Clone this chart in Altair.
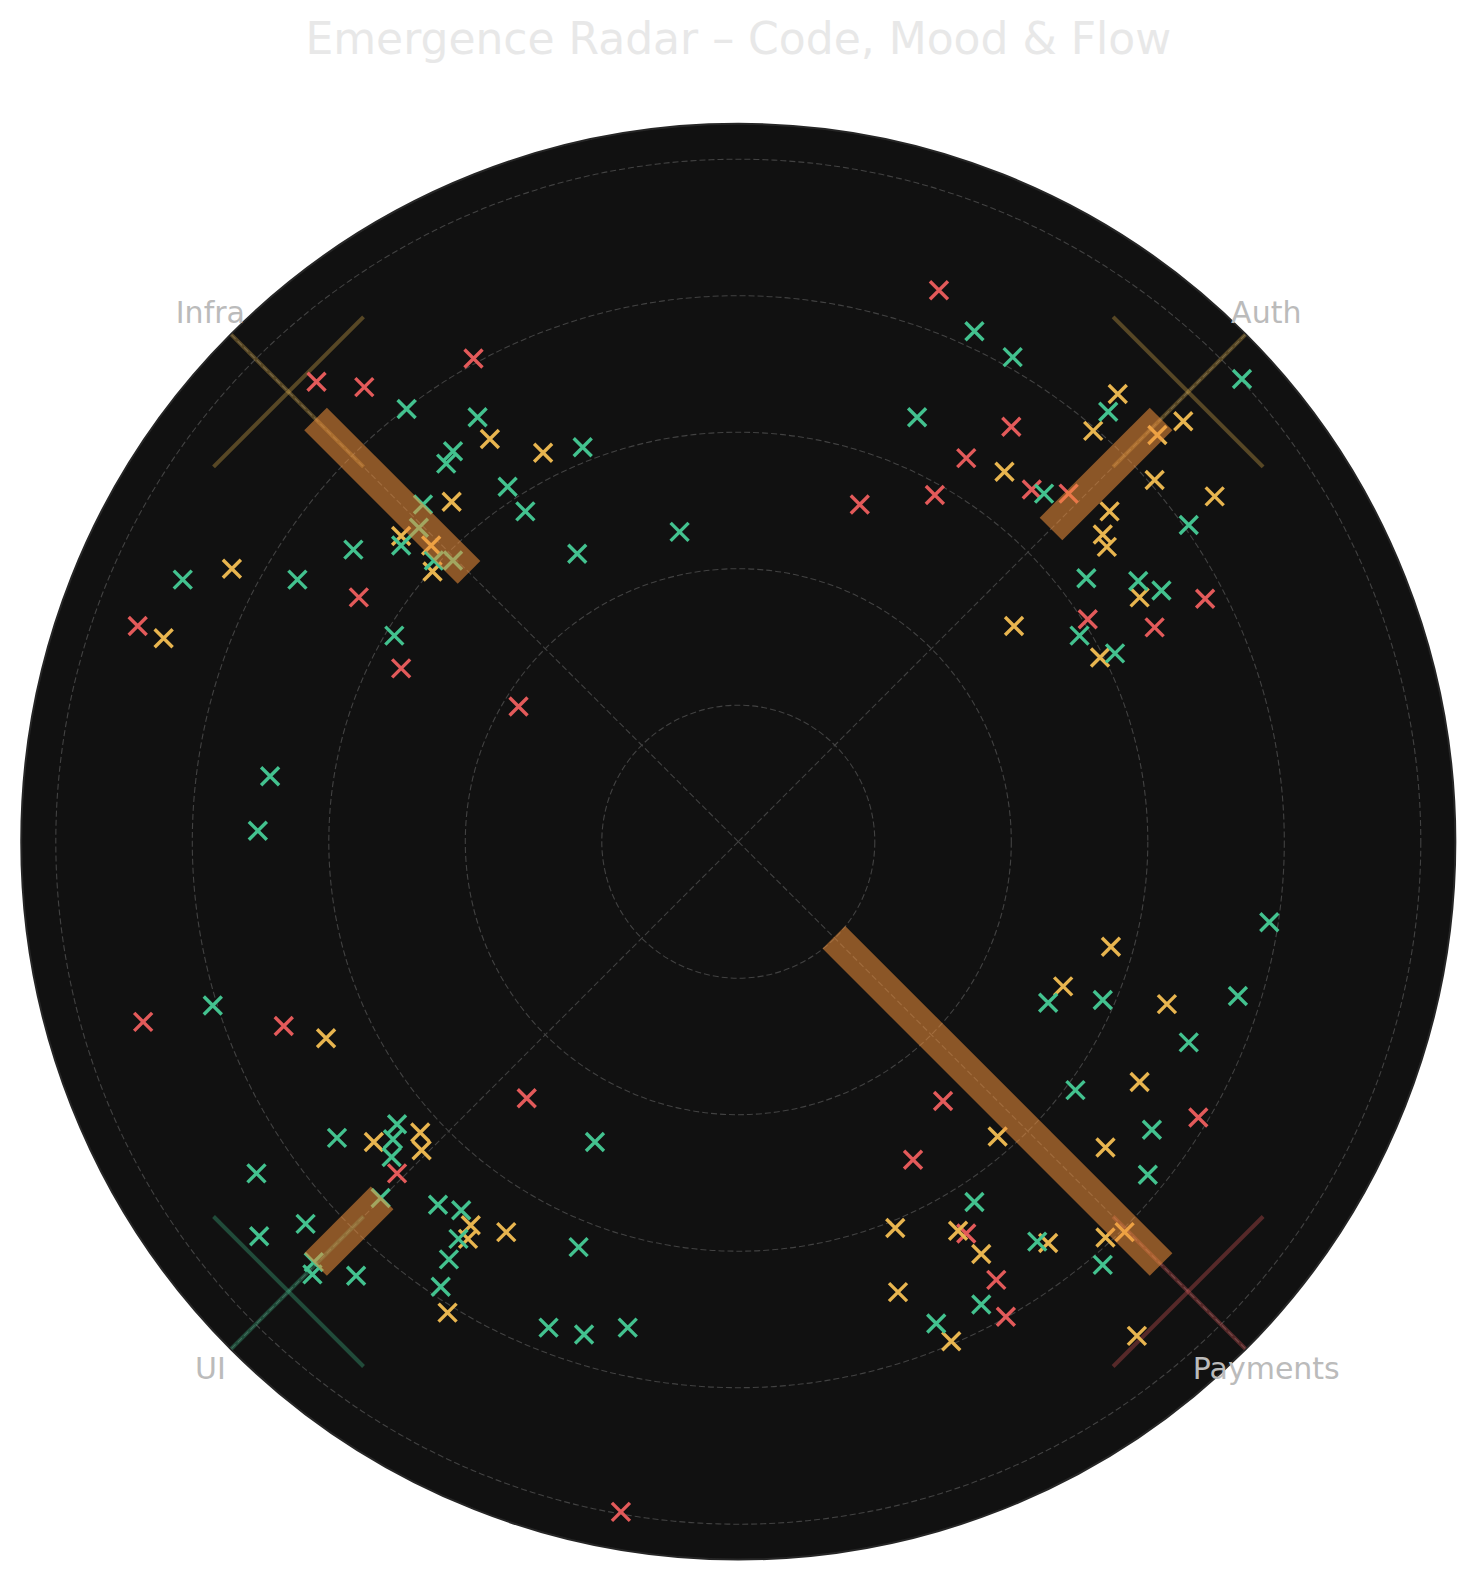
import math
import altair as alt
import pandas as pd

# ---------------- data (radial units: grid rings at 1..5) ----------------
TITLE = "Emergence Radar – Code, Mood & Flow"
categories = ["Auth", "Infra", "UI", "Payments"]
category_angle = [45, 135, 225, 315]          # degrees, counter-clockwise from east
flow_start = [3.24, 2.79, 3.69, 0.99]
flow_end = [4.38, 4.38, 4.38, 4.38]
mood_marker_r = [4.66, 4.66, 4.66, 4.66]
category_mood = ["Neutral", "Neutral", "Flow", "Blocked"]
ring_levels = [1, 2, 3, 4, 5]
R_MAX = 5.253
LABEL_R = 5.47

moods = ["Blocked", "Neutral", "Flow"]
mood_colors = ["#e35a5a", "#e8b54f", "#43c28f"]

blocked_x = [-1.94, -3.09, -2.74, -2.78, -4.40, -2.47, -1.61, 1.47, 2.00, 1.67, 2.15, 2.42, 1.44, 0.89,
             3.42, 2.56, 3.05, -4.36, -3.33, -1.55, -2.50, -0.86, 1.50, 3.37, 1.28, 1.67, 1.89, 1.96]
blocked_y = [3.54, 3.37, 3.33, 1.79, 1.58, 1.27, 0.99, 4.04, 3.04, 2.81, 2.58, 2.55, 2.54, 2.47,
             1.78, 1.63, 1.57, -1.32, -1.35, -1.88, -2.43, -4.91, -1.90, -2.02, -2.33, -2.87, -3.21, -3.48]

neutral_x = [-1.82, -1.43, -2.10, -2.47, -2.25, -2.24, -3.71, -4.21, 2.78, 2.60, 3.26, 3.07, 1.95, 3.05,
             3.49, 2.72, 2.67, 2.70, 2.94, 2.02, 2.65, -3.02, -2.33, -2.67, -2.32, -1.96, -1.98, -1.70,
             -2.13, 2.73, 2.38, 3.14, 2.94, 1.90, 2.69, 1.15, 1.61, 2.27, 2.69, 2.83, 1.78, 1.17, 1.56, 2.92]
neutral_y = [2.95, 2.85, 2.49, 2.24, 2.17, 1.98, 2.00, 1.49, 3.28, 3.01, 3.08, 2.98, 2.71, 2.65,
             2.53, 2.42, 2.25, 2.16, 1.79, 1.58, 1.35, -1.44, -2.13, -2.20, -2.26, -2.81, -2.91, -2.86,
             -3.45, -0.77, -1.06, -1.19, -1.76, -2.16, -2.24, -2.83, -2.85, -2.94, -2.90, -2.86, -3.02,
             -3.30, -3.66, -3.62]

flow_x = [-2.43, -1.91, -2.09, -2.14, -1.14, -1.69, -1.56, -2.31, -2.34, -2.47, -2.23, -2.09, -2.82, -1.18,
          -4.07, -3.23, -2.52, -0.43, -3.43, -3.52, 1.73, 2.01, 3.69, 2.71, 1.31, 2.24, 3.30, 2.55, 2.93,
          3.10, 2.50, 2.76, -3.85, -1.05, -2.50, -2.94, -2.53, -2.54, -3.53, -2.62, -2.20, -2.03, -2.05,
          -3.17, -3.51, -1.17, -3.11, -3.12, -2.80, -2.12, -2.18, -1.39, -1.13, -0.81, 3.89, 2.27, 2.67,
          3.66, 3.30, 2.47, 3.03, 3.00, 1.73, 2.19, 2.67, 1.78, 1.45]
flow_y = [3.17, 3.11, 2.86, 2.77, 2.89, 2.60, 2.42, 2.47, 2.30, 2.17, 2.06, 2.06, 2.14, 2.11,
          1.92, 1.92, 1.51, 2.27, 0.48, 0.08, 3.74, 3.55, 3.39, 3.15, 3.11, 2.55, 2.32, 1.93, 1.91,
          1.84, 1.51, 1.38, -1.20, -2.20, -2.07, -2.17, -2.18, -2.31, -2.43, -2.61, -2.66, -2.70, -2.91,
          -2.80, -2.89, -2.97, -3.08, -3.17, -3.18, -3.06, -3.26, -3.56, -3.61, -3.56, -0.59, -1.18, -1.16,
          -1.13, -1.47, -1.82, -2.11, -2.44, -2.64, -2.93, -3.10, -3.39, -3.53]

# ---------------- layout ----------------
W, H = 1460, 1556
UNIT = 136.5          # pixels per radial unit
CX, CY = 730.3, 833.7 # centre of the radar inside the plot area
CROSS_HALF = 0.777
FONT = "DejaVu Sans"

xs = alt.Scale(domain=[-CX / UNIT, (W - CX) / UNIT], range=[0, W], nice=False, zero=False)
ys = alt.Scale(domain=[-(H - CY) / UNIT, CY / UNIT], range=[H, 0], nice=False, zero=False)
# circle symbol diameter = sqrt(size)  ->  size = (2 * r * UNIT)^2
ss = alt.Scale(type="pow", exponent=2, domain=[0, R_MAX], range=[0, (2 * R_MAX * UNIT) ** 2],
               nice=False, zero=True)
cs = alt.Scale(domain=moods, range=mood_colors)

cat_df = pd.DataFrame({
    "category": categories, "angle": category_angle, "flow_start": flow_start,
    "flow_end": flow_end, "marker_r": mood_marker_r, "mood": category_mood,
})
pts = pd.concat([
    pd.DataFrame({"x": blocked_x, "y": blocked_y, "mood": "Blocked"}),
    pd.DataFrame({"x": neutral_x, "y": neutral_y, "mood": "Neutral"}),
    pd.DataFrame({"x": flow_x, "y": flow_y, "mood": "Flow"}),
], ignore_index=True)

RAD = "datum.angle*PI/180"

disc = alt.Chart(pd.DataFrame({"r": [R_MAX]})).transform_calculate(c0="0").mark_point(
    shape="circle", filled=True, color="#111111", opacity=1, stroke="#262626", strokeWidth=2
).encode(x=alt.X("c0:Q", scale=xs, axis=None), y=alt.Y("c0:Q", scale=ys, axis=None),
         size=alt.Size("r:Q", scale=ss, legend=None))

rings = alt.Chart(pd.DataFrame({"r": ring_levels})).transform_calculate(c0="0").mark_point(
    shape="circle", filled=False, color="#424242", opacity=1, strokeWidth=1.1, strokeDash=[6, 3]
).encode(x=alt.X("c0:Q", scale=xs, axis=None), y=alt.Y("c0:Q", scale=ys, axis=None),
         size=alt.Size("r:Q", scale=ss, legend=None))

spokes = alt.Chart(cat_df).transform_calculate(
    x0="0", y0="0",
    x1=f"{R_MAX}*cos({RAD})", y1=f"{R_MAX}*sin({RAD})",
).mark_rule(color="#424242", strokeWidth=1.1, strokeDash=[6, 3]).encode(
    x=alt.X("x0:Q", scale=xs, axis=None), y=alt.Y("y0:Q", scale=ys, axis=None),
    x2="x1:Q", y2="y1:Q")

cross_radial = alt.Chart(cat_df).transform_calculate(
    ra=f"datum.marker_r-{CROSS_HALF}", rb=f"min(datum.marker_r+{CROSS_HALF},{R_MAX})"
).transform_calculate(
    x0=f"datum.ra*cos({RAD})", y0=f"datum.ra*sin({RAD})",
    x1=f"datum.rb*cos({RAD})", y1=f"datum.rb*sin({RAD})",
).mark_rule(strokeWidth=4, opacity=0.33).encode(
    x=alt.X("x0:Q", scale=xs, axis=None), y=alt.Y("y0:Q", scale=ys, axis=None),
    x2="x1:Q", y2="y1:Q", color=alt.Color("mood:N", scale=cs, legend=None))

cross_tang = alt.Chart(cat_df).transform_calculate(
    cx=f"datum.marker_r*cos({RAD})", cy=f"datum.marker_r*sin({RAD})"
).transform_calculate(
    x0=f"datum.cx-{CROSS_HALF}*sin({RAD})", y0=f"datum.cy+{CROSS_HALF}*cos({RAD})",
    x1=f"datum.cx+{CROSS_HALF}*sin({RAD})", y1=f"datum.cy-{CROSS_HALF}*cos({RAD})",
).mark_rule(strokeWidth=4, opacity=0.33).encode(
    x=alt.X("x0:Q", scale=xs, axis=None), y=alt.Y("y0:Q", scale=ys, axis=None),
    x2="x1:Q", y2="y1:Q", color=alt.Color("mood:N", scale=cs, legend=None))

points = alt.Chart(pts).mark_point(
    shape="M-1,-1L1,1M-1,1L1,-1", size=324, strokeWidth=3.4, filled=False, opacity=1
).encode(
    x=alt.X("x:Q", scale=xs, axis=None), y=alt.Y("y:Q", scale=ys, axis=None),
    color=alt.Color("mood:N", scale=cs, legend=None))

bars = alt.Chart(cat_df).transform_calculate(
    x0=f"datum.flow_start*cos({RAD})", y0=f"datum.flow_start*sin({RAD})",
    x1=f"datum.flow_end*cos({RAD})", y1=f"datum.flow_end*sin({RAD})",
).mark_rule(strokeWidth=32, strokeCap="butt", color="#f0903a", opacity=0.55).encode(
    x=alt.X("x0:Q", scale=xs, axis=None), y=alt.Y("y0:Q", scale=ys, axis=None),
    x2="x1:Q", y2="y1:Q")

labels = alt.Chart(cat_df).transform_calculate(
    lx=f"{LABEL_R}*cos({RAD})", ly=f"{LABEL_R}*sin({RAD})"
).mark_text(font=FONT, fontSize=30, color="#bbbbbb", align="center", baseline="middle").encode(
    x=alt.X("lx:Q", scale=xs, axis=None), y=alt.Y("ly:Q", scale=ys, axis=None),
    text="category:N")

title = alt.Chart(pd.DataFrame({"t": [TITLE]})).transform_calculate(c0="0").mark_text(
    font=FONT, fontSize=44, color="#e8e8e8", align="center", baseline="alphabetic"
).encode(x=alt.X("c0:Q", scale=xs, axis=None), y=alt.value(45.8), text="t:N")

chart = alt.layer(disc, rings, spokes, cross_radial, cross_tang, points, bars, labels, title).properties(
    width=W, height=H, padding=0, autosize=alt.AutoSizeParams(type="none"), background="#ffffff"
).configure_view(stroke=None)

chart.save("out.html", embed_options={"renderer": "svg", "actions": False})
